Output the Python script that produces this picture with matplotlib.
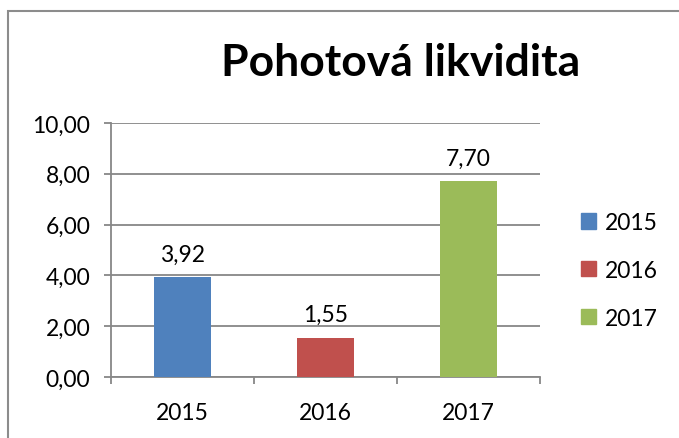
import matplotlib.pyplot as plt
from matplotlib.patches import Rectangle
from matplotlib.ticker import FixedLocator

plt.rcParams['font.family'] = ['Lato', 'DejaVu Sans']

years = ['2015', '2016', '2017']
values = [3.92, 1.55, 7.70]
colors = ['#4F81BD', '#C0504D', '#9BBB59']
yticks = [0, 2, 4, 6, 8, 10]

fig = plt.figure(figsize=(6.79, 4.39), dpi=100)
ax = fig.add_axes([0.1635, 0.139, 0.632, 0.5785])

grid_col = '#878787'
fs = 16.5
x = range(len(years))
bars = ax.bar(x, values, width=0.4, color=colors, zorder=3)
for i, v in enumerate(values):
    ax.annotate(f"{v:.2f}".replace('.', ','), (i, v), xytext=(0, 9),
                textcoords='offset points', ha='center', va='bottom', fontsize=fs)

ax.set_xlim(-0.5, 2.5)
ax.set_ylim(0, 10)
ax.set_yticks(yticks)
ax.set_yticklabels([f"{t:.2f}".replace('.', ',') for t in yticks], fontsize=fs)
ax.set_xticks(list(x))
ax.set_xticklabels(years, fontsize=fs)
ax.xaxis.set_minor_locator(FixedLocator([-0.5, 0.5, 1.5, 2.5]))
ax.tick_params(axis='x', which='major', length=0, pad=18)
ax.tick_params(axis='x', which='minor', length=5, color=grid_col, width=1.3)
ax.tick_params(axis='y', length=5, color=grid_col, width=1.3, pad=10)
ax.grid(axis='y', color=grid_col, linewidth=1.3, zorder=0)

for side in ['top', 'right']:
    ax.spines[side].set_visible(False)
for side in ['left', 'bottom']:
    ax.spines[side].set_color(grid_col)
    ax.spines[side].set_linewidth(1.3)

fig.text(0.59, 0.857, 'Pohotová likvidita', ha='center', va='center',
         fontsize=32, fontweight='bold')

handles = [Rectangle((0, 0), 1, 1, color=c) for c in colors]
fig.legend(handles, years, loc='center left', bbox_to_anchor=(0.826, 0.382),
           frameon=False, fontsize=fs, handlelength=0.65, handleheight=0.65,
           labelspacing=1.17, handletextpad=0.35)

fig.patches.append(Rectangle((8 / 679, -0.1), 1.1, 1.1 - 12 / 439,
                             transform=fig.transFigure, fill=False,
                             edgecolor='#8c8c8c', linewidth=1.5))

fig.savefig('out.png', dpi=100)
